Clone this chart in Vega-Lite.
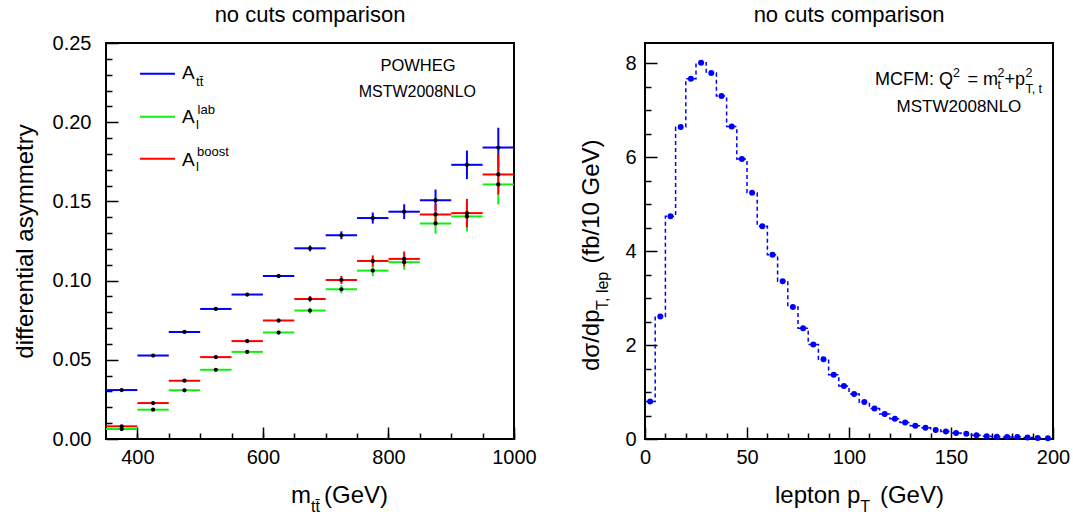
{
  "$schema": "https://vega.github.io/schema/vega-lite/v6.json",
  "padding": {"left": 12, "top": 3, "right": 5, "bottom": 0},
  "background": "white",
  "spacing": 40,
  "config": {
    "font": "Liberation Sans",
    "view": {"stroke": "black", "strokeWidth": 2},
    "title": {"font": "Liberation Sans", "fontSize": 22, "fontWeight": "normal", "color": "black"},
    "axis": {
      "domain": false, "grid": false, "tickColor": "black", "tickWidth": 1.5,
      "labelColor": "black", "labelFont": "Liberation Sans", "labelFontSize": 20,
      "labelOverlap": false, "labelFlush": false,
      "titleFont": "Liberation Sans", "titleFontSize": 24, "titleFontWeight": "normal", "titleColor": "black"
    }
  },
  "hconcat": [
    {
      "width": 408, "height": 396,
      "title": {"text": "no cuts comparison", "offset": 6},
      "resolve": {"axis": {"x": "independent", "y": "independent"}},
      "data": {"values": [
        {"series":"tt","lo":350,"hi":400,"x":375,"y":0.0309,"ylo":0.0301,"yhi":0.0317},
        {"series":"tt","lo":400,"hi":450,"x":425,"y":0.0527,"ylo":0.0519,"yhi":0.0535},
        {"series":"tt","lo":450,"hi":500,"x":475,"y":0.0676,"ylo":0.0668,"yhi":0.0684},
        {"series":"tt","lo":500,"hi":550,"x":525,"y":0.0821,"ylo":0.0812,"yhi":0.0830},
        {"series":"tt","lo":550,"hi":600,"x":575,"y":0.0912,"ylo":0.0902,"yhi":0.0922},
        {"series":"tt","lo":600,"hi":650,"x":625,"y":0.1029,"ylo":0.1017,"yhi":0.1041},
        {"series":"tt","lo":650,"hi":700,"x":675,"y":0.1204,"ylo":0.1186,"yhi":0.1222},
        {"series":"tt","lo":700,"hi":750,"x":725,"y":0.1286,"ylo":0.1261,"yhi":0.1311},
        {"series":"tt","lo":750,"hi":800,"x":775,"y":0.1395,"ylo":0.1360,"yhi":0.1430},
        {"series":"tt","lo":800,"hi":850,"x":825,"y":0.1435,"ylo":0.1388,"yhi":0.1482},
        {"series":"tt","lo":850,"hi":900,"x":875,"y":0.1508,"ylo":0.1441,"yhi":0.1575},
        {"series":"tt","lo":900,"hi":950,"x":925,"y":0.1731,"ylo":0.1641,"yhi":0.1821},
        {"series":"tt","lo":950,"hi":1000,"x":975,"y":0.1840,"ylo":0.1715,"yhi":0.1965},
        {"series":"lab","lo":350,"hi":400,"x":375,"y":0.0063,"ylo":0.0055,"yhi":0.0071},
        {"series":"lab","lo":400,"hi":450,"x":425,"y":0.0185,"ylo":0.0177,"yhi":0.0193},
        {"series":"lab","lo":450,"hi":500,"x":475,"y":0.0307,"ylo":0.0299,"yhi":0.0315},
        {"series":"lab","lo":500,"hi":550,"x":525,"y":0.0437,"ylo":0.0428,"yhi":0.0446},
        {"series":"lab","lo":550,"hi":600,"x":575,"y":0.0550,"ylo":0.0540,"yhi":0.0560},
        {"series":"lab","lo":600,"hi":650,"x":625,"y":0.0672,"ylo":0.0660,"yhi":0.0684},
        {"series":"lab","lo":650,"hi":700,"x":675,"y":0.0811,"ylo":0.0793,"yhi":0.0829},
        {"series":"lab","lo":700,"hi":750,"x":725,"y":0.0945,"ylo":0.0920,"yhi":0.0970},
        {"series":"lab","lo":750,"hi":800,"x":775,"y":0.1063,"ylo":0.1028,"yhi":0.1098},
        {"series":"lab","lo":800,"hi":850,"x":825,"y":0.1116,"ylo":0.1069,"yhi":0.1163},
        {"series":"lab","lo":850,"hi":900,"x":875,"y":0.1361,"ylo":0.1296,"yhi":0.1426},
        {"series":"lab","lo":900,"hi":950,"x":925,"y":0.1405,"ylo":0.1310,"yhi":0.1500},
        {"series":"lab","lo":950,"hi":1000,"x":975,"y":0.1607,"ylo":0.1481,"yhi":0.1733},
        {"series":"boost","lo":350,"hi":400,"x":375,"y":0.0080,"ylo":0.0072,"yhi":0.0088},
        {"series":"boost","lo":400,"hi":450,"x":425,"y":0.0227,"ylo":0.0219,"yhi":0.0235},
        {"series":"boost","lo":450,"hi":500,"x":475,"y":0.0368,"ylo":0.0360,"yhi":0.0376},
        {"series":"boost","lo":500,"hi":550,"x":525,"y":0.0517,"ylo":0.0508,"yhi":0.0526},
        {"series":"boost","lo":550,"hi":600,"x":575,"y":0.0618,"ylo":0.0608,"yhi":0.0628},
        {"series":"boost","lo":600,"hi":650,"x":625,"y":0.0748,"ylo":0.0736,"yhi":0.0760},
        {"series":"boost","lo":650,"hi":700,"x":675,"y":0.0884,"ylo":0.0866,"yhi":0.0902},
        {"series":"boost","lo":700,"hi":750,"x":725,"y":0.1004,"ylo":0.0979,"yhi":0.1029},
        {"series":"boost","lo":750,"hi":800,"x":775,"y":0.1124,"ylo":0.1089,"yhi":0.1159},
        {"series":"boost","lo":800,"hi":850,"x":825,"y":0.1137,"ylo":0.1090,"yhi":0.1184},
        {"series":"boost","lo":850,"hi":900,"x":875,"y":0.1418,"ylo":0.1355,"yhi":0.1481},
        {"series":"boost","lo":900,"hi":950,"x":925,"y":0.1426,"ylo":0.1336,"yhi":0.1516},
        {"series":"boost","lo":950,"hi":1000,"x":975,"y":0.1670,"ylo":0.1544,"yhi":0.1796}
      ]},
      "layer": [
        {
          "layer": [
            {
              "mark": {"type": "rule", "strokeWidth": 2},
              "encoding": {
                "x": {"field": "lo", "type": "quantitative", "scale": {"domain": [350, 1000], "nice": false, "zero": false},
                  "axis": {"title": null, "format": "d", "orient": "bottom", "values": [400, 600, 800, 1000],
                    "tickSize": 12, "offset": -12, "labelPadding": 8, "labelOverlap": false}},
                "x2": {"field": "hi"},
                "y": {"field": "y", "type": "quantitative", "scale": {"domain": [0, 0.25], "nice": false},
                  "axis": {"title": "differential asymmetry", "format": ".2f", "orient": "left", "titlePadding": 15,
                    "values": [0, 0.05, 0.1, 0.15, 0.2, 0.25],
                    "tickSize": 12, "offset": -12, "labelPadding": 15, "labelOverlap": false}},
                "color": {"field": "series", "type": "nominal", "scale": {"domain": ["tt", "lab", "boost"], "range": ["#0000ff", "#11ee11", "#ff0000"]}, "legend": null}
              }
            },
            {
              "mark": {"type": "rule", "strokeWidth": 2},
              "encoding": {
                "x": {"field": "x", "type": "quantitative"},
                "y": {"field": "ylo", "type": "quantitative"},
                "y2": {"field": "yhi"},
                "color": {"field": "series", "type": "nominal", "legend": null}
              }
            },
            {
              "mark": {"type": "point", "filled": true, "color": "black", "size": 18, "opacity": 1},
              "encoding": {
                "x": {"field": "x", "type": "quantitative"},
                "y": {"field": "y", "type": "quantitative"}
              }
            },
            {"data": {"values": [{}]}, "mark": {"type": "rule", "color": "#0000ff", "strokeWidth": 2},
              "encoding": {"x": {"datum": 404.2, "type": "quantitative"}, "x2": {"datum": 459.9}, "y": {"datum": 0.2306, "type": "quantitative"}}},
            {"data": {"values": [{}]}, "mark": {"type": "rule", "color": "#11ee11", "strokeWidth": 2},
              "encoding": {"x": {"datum": 404.2, "type": "quantitative"}, "x2": {"datum": 459.9}, "y": {"datum": 0.2035, "type": "quantitative"}}},
            {"data": {"values": [{}]}, "mark": {"type": "rule", "color": "#ff0000", "strokeWidth": 2},
              "encoding": {"x": {"datum": 404.2, "type": "quantitative"}, "x2": {"datum": 459.9}, "y": {"datum": 0.1770, "type": "quantitative"}}},
            {"data": {"values": [{}]}, "mark": {"type": "text", "text": "A", "fontSize": 19, "align": "left", "baseline": "alphabetic", "color": "black"},
              "encoding": {"x": {"datum": 471.1, "type": "quantitative"}, "y": {"datum": 0.2271, "type": "quantitative"}}},
            {"data": {"values": [{}]}, "mark": {"type": "text", "text": "tt̄", "fontSize": 13, "align": "left", "baseline": "alphabetic", "color": "black", "dx": 14, "dy": 7},
              "encoding": {"x": {"datum": 471.1, "type": "quantitative"}, "y": {"datum": 0.2271, "type": "quantitative"}}},
            {"data": {"values": [{}]}, "mark": {"type": "text", "text": "A", "fontSize": 19, "align": "left", "baseline": "alphabetic", "color": "black"},
              "encoding": {"x": {"datum": 471.1, "type": "quantitative"}, "y": {"datum": 0.1997, "type": "quantitative"}}},
            {"data": {"values": [{}]}, "mark": {"type": "text", "text": "lab", "fontSize": 13, "align": "left", "baseline": "alphabetic", "color": "black", "dx": 15.5, "dy": -8.5},
              "encoding": {"x": {"datum": 471.1, "type": "quantitative"}, "y": {"datum": 0.1997, "type": "quantitative"}}},
            {"data": {"values": [{}]}, "mark": {"type": "text", "text": "l", "fontSize": 13, "align": "left", "baseline": "alphabetic", "color": "black", "dx": 14, "dy": 6.5},
              "encoding": {"x": {"datum": 471.1, "type": "quantitative"}, "y": {"datum": 0.1997, "type": "quantitative"}}},
            {"data": {"values": [{}]}, "mark": {"type": "text", "text": "A", "fontSize": 19, "align": "left", "baseline": "alphabetic", "color": "black"},
              "encoding": {"x": {"datum": 471.1, "type": "quantitative"}, "y": {"datum": 0.1723, "type": "quantitative"}}},
            {"data": {"values": [{}]}, "mark": {"type": "text", "text": "boost", "fontSize": 13, "align": "left", "baseline": "alphabetic", "color": "black", "dx": 15, "dy": -10},
              "encoding": {"x": {"datum": 471.1, "type": "quantitative"}, "y": {"datum": 0.1723, "type": "quantitative"}}},
            {"data": {"values": [{}]}, "mark": {"type": "text", "text": "l", "fontSize": 13, "align": "left", "baseline": "alphabetic", "color": "black", "dx": 14, "dy": 5},
              "encoding": {"x": {"datum": 471.1, "type": "quantitative"}, "y": {"datum": 0.1723, "type": "quantitative"}}},
            {"data": {"values": [{}]}, "mark": {"type": "text", "text": "POWHEG", "fontSize": 16.5, "align": "center", "baseline": "alphabetic", "color": "black"},
              "encoding": {"x": {"datum": 847, "type": "quantitative"}, "y": {"datum": 0.2323, "type": "quantitative"}}},
            {"data": {"values": [{}]}, "mark": {"type": "text", "text": "MSTW2008NLO", "fontSize": 16, "align": "center", "baseline": "alphabetic", "color": "black"},
              "encoding": {"x": {"datum": 846, "type": "quantitative"}, "y": {"datum": 0.2161, "type": "quantitative"}}},
            {"data": {"values": [{}]}, "mark": {"type": "text", "text": "m", "fontSize": 24, "align": "left", "baseline": "alphabetic", "color": "black", "clip": false},
              "encoding": {"x": {"datum": 644.7, "type": "quantitative"}, "y": {"datum": -0.0405, "type": "quantitative"}}},
            {"data": {"values": [{}]}, "mark": {"type": "text", "text": "tt̄", "fontSize": 16, "align": "left", "baseline": "alphabetic", "color": "black", "dx": 20, "dy": 9, "clip": false},
              "encoding": {"x": {"datum": 644.7, "type": "quantitative"}, "y": {"datum": -0.0405, "type": "quantitative"}}},
            {"data": {"values": [{}]}, "mark": {"type": "text", "text": "(GeV)", "fontSize": 24, "align": "left", "baseline": "alphabetic", "color": "black", "dx": 33, "clip": false},
              "encoding": {"x": {"datum": 644.7, "type": "quantitative"}, "y": {"datum": -0.0405, "type": "quantitative"}}}
          ]
        },
        {
          "mark": {"type": "point", "opacity": 0},
          "encoding": {
            "x": {"field": "x", "type": "quantitative", "scale": {"domain": [350, 1000], "nice": false, "zero": false},
              "axis": {"title": null, "orient": "bottom", "labels": false, "tickSize": 6, "offset": -6,
                "values": [400, 450, 500, 550, 600, 650, 700, 750, 800, 850, 900, 950, 1000]}},
            "y": {"field": "y", "type": "quantitative", "scale": {"domain": [0, 0.25], "nice": false},
              "axis": {"title": null, "orient": "left", "labels": false, "tickSize": 6, "offset": -6,
                "values": [0.01, 0.02, 0.03, 0.04, 0.06, 0.07, 0.08, 0.09, 0.11, 0.12, 0.13, 0.14, 0.16, 0.17, 0.18, 0.19, 0.21, 0.22, 0.23, 0.24]}}
          }
        }
      ]
    },
    {
      "width": 408, "height": 396,
      "title": {"text": "no cuts comparison", "offset": 16},
      "resolve": {"axis": {"x": "independent", "y": "independent"}},
      "data": {"values": [
        {"lo":0,"pt":2.5,"val":0.80},{"lo":5,"pt":7.5,"val":2.61},{"lo":10,"pt":12.5,"val":4.74},{"lo":15,"pt":17.5,"val":6.64},
        {"lo":20,"pt":22.5,"val":7.67},{"lo":25,"pt":27.5,"val":8.01},{"lo":30,"pt":32.5,"val":7.79},{"lo":35,"pt":37.5,"val":7.30},
        {"lo":40,"pt":42.5,"val":6.65},{"lo":45,"pt":47.5,"val":5.96},{"lo":50,"pt":52.5,"val":5.24},{"lo":55,"pt":57.5,"val":4.53},
        {"lo":60,"pt":62.5,"val":3.92},{"lo":65,"pt":67.5,"val":3.36},{"lo":70,"pt":72.5,"val":2.81},{"lo":75,"pt":77.5,"val":2.36},
        {"lo":80,"pt":82.5,"val":2.01},{"lo":85,"pt":87.5,"val":1.70},{"lo":90,"pt":92.5,"val":1.37},{"lo":95,"pt":97.5,"val":1.13},
        {"lo":100,"pt":102.5,"val":0.96},{"lo":105,"pt":107.5,"val":0.79},{"lo":110,"pt":112.5,"val":0.65},{"lo":115,"pt":117.5,"val":0.53},
        {"lo":120,"pt":122.5,"val":0.43},{"lo":125,"pt":127.5,"val":0.35},{"lo":130,"pt":132.5,"val":0.28},{"lo":135,"pt":137.5,"val":0.24},
        {"lo":140,"pt":142.5,"val":0.19},{"lo":145,"pt":147.5,"val":0.16},{"lo":150,"pt":152.5,"val":0.13},{"lo":155,"pt":157.5,"val":0.11},
        {"lo":160,"pt":162.5,"val":0.08},{"lo":165,"pt":167.5,"val":0.06},{"lo":170,"pt":172.5,"val":0.05},{"lo":175,"pt":177.5,"val":0.04},
        {"lo":180,"pt":182.5,"val":0.04},{"lo":185,"pt":187.5,"val":0.03},{"lo":190,"pt":192.5,"val":0.02},{"lo":195,"pt":197.5,"val":0.015}
      ]},
      "layer": [
        {
          "layer": [
            {
              "mark": {"type": "line", "interpolate": "step-after", "color": "#0000ff", "strokeWidth": 1.5, "strokeDash": [4, 3]},
              "encoding": {
                "x": {"field": "lo", "type": "quantitative", "scale": {"domain": [0, 200], "nice": false},
                  "axis": {"title": null, "format": "d", "orient": "bottom", "values": [0, 50, 100, 150, 200],
                    "tickSize": 12, "offset": -12, "labelPadding": 8, "labelOverlap": false}},
                "y": {"field": "val", "type": "quantitative", "scale": {"domain": [0, 8.43], "nice": false},
                  "axis": {"title": null, "format": "d", "orient": "left", "values": [0, 2, 4, 6, 8],
                    "tickSize": 12, "offset": -12, "labelPadding": 9, "labelOverlap": false}}
              }
            },
            {
              "mark": {"type": "point", "filled": true, "color": "#0000ff", "size": 36, "opacity": 1},
              "encoding": {
                "x": {"field": "pt", "type": "quantitative"},
                "y": {"field": "val", "type": "quantitative"}
              }
            },
            {"data": {"values": [{}]}, "mark": {"type": "text", "text": "MCFM: Q", "fontSize": 18, "align": "left", "baseline": "alphabetic", "color": "black"},
              "encoding": {"x": {"datum": 112.7, "type": "quantitative"}, "y": {"datum": 7.536, "type": "quantitative"}}},
            {"data": {"values": [{}]}, "mark": {"type": "text", "text": "2", "fontSize": 12.5, "align": "left", "baseline": "alphabetic", "color": "black", "dx": 78, "dy": -8},
              "encoding": {"x": {"datum": 112.7, "type": "quantitative"}, "y": {"datum": 7.536, "type": "quantitative"}}},
            {"data": {"values": [{}]}, "mark": {"type": "text", "text": "= m", "fontSize": 18, "align": "left", "baseline": "alphabetic", "color": "black", "dx": 92.5},
              "encoding": {"x": {"datum": 112.7, "type": "quantitative"}, "y": {"datum": 7.536, "type": "quantitative"}}},
            {"data": {"values": [{}]}, "mark": {"type": "text", "text": "t", "fontSize": 12.5, "align": "left", "baseline": "alphabetic", "color": "black", "dx": 122.5, "dy": 4},
              "encoding": {"x": {"datum": 112.7, "type": "quantitative"}, "y": {"datum": 7.536, "type": "quantitative"}}},
            {"data": {"values": [{}]}, "mark": {"type": "text", "text": "2", "fontSize": 12.5, "align": "left", "baseline": "alphabetic", "color": "black", "dx": 122.5, "dy": -8},
              "encoding": {"x": {"datum": 112.7, "type": "quantitative"}, "y": {"datum": 7.536, "type": "quantitative"}}},
            {"data": {"values": [{}]}, "mark": {"type": "text", "text": "+p", "fontSize": 18, "align": "left", "baseline": "alphabetic", "color": "black", "dx": 129.5},
              "encoding": {"x": {"datum": 112.7, "type": "quantitative"}, "y": {"datum": 7.536, "type": "quantitative"}}},
            {"data": {"values": [{}]}, "mark": {"type": "text", "text": "2", "fontSize": 12.5, "align": "left", "baseline": "alphabetic", "color": "black", "dx": 150.5, "dy": -8},
              "encoding": {"x": {"datum": 112.7, "type": "quantitative"}, "y": {"datum": 7.536, "type": "quantitative"}}},
            {"data": {"values": [{}]}, "mark": {"type": "text", "text": "T, t", "fontSize": 12.5, "align": "left", "baseline": "alphabetic", "color": "black", "dx": 150.5, "dy": 8},
              "encoding": {"x": {"datum": 112.7, "type": "quantitative"}, "y": {"datum": 7.536, "type": "quantitative"}}},
            {"data": {"values": [{}]}, "mark": {"type": "text", "text": "MSTW2008NLO", "fontSize": 17, "align": "center", "baseline": "alphabetic", "color": "black"},
              "encoding": {"x": {"datum": 153.9, "type": "quantitative"}, "y": {"datum": 6.962, "type": "quantitative"}}},
            {"data": {"values": [{}]}, "mark": {"type": "text", "text": "lepton p", "fontSize": 24, "align": "left", "baseline": "alphabetic", "color": "black", "clip": false},
              "encoding": {"x": {"datum": 63.7, "type": "quantitative"}, "y": {"datum": -1.365, "type": "quantitative"}}},
            {"data": {"values": [{}]}, "mark": {"type": "text", "text": "T", "fontSize": 16, "align": "left", "baseline": "alphabetic", "color": "black", "dx": 85.4, "dy": 9, "clip": false},
              "encoding": {"x": {"datum": 63.7, "type": "quantitative"}, "y": {"datum": -1.365, "type": "quantitative"}}},
            {"data": {"values": [{}]}, "mark": {"type": "text", "text": "(GeV)", "fontSize": 24, "align": "left", "baseline": "alphabetic", "color": "black", "dx": 105, "clip": false},
              "encoding": {"x": {"datum": 63.7, "type": "quantitative"}, "y": {"datum": -1.365, "type": "quantitative"}}},
            {"data": {"values": [{}]}, "mark": {"type": "text", "text": "dσ/dp", "fontSize": 24, "angle": 270, "align": "left", "baseline": "alphabetic", "color": "black", "clip": false},
              "encoding": {"x": {"datum": -22.55, "type": "quantitative"}, "y": {"datum": 1.448, "type": "quantitative"}}},
            {"data": {"values": [{}]}, "mark": {"type": "text", "text": "T, lep", "fontSize": 16, "angle": 270, "align": "left", "baseline": "alphabetic", "color": "black", "dx": 61, "dy": 9, "clip": false},
              "encoding": {"x": {"datum": -22.55, "type": "quantitative"}, "y": {"datum": 1.448, "type": "quantitative"}}},
            {"data": {"values": [{}]}, "mark": {"type": "text", "text": "(fb/10 GeV)", "fontSize": 24, "angle": 270, "align": "left", "baseline": "alphabetic", "color": "black", "dx": 107.5, "clip": false},
              "encoding": {"x": {"datum": -22.55, "type": "quantitative"}, "y": {"datum": 1.448, "type": "quantitative"}}}
          ]
        },
        {
          "mark": {"type": "point", "opacity": 0},
          "encoding": {
            "x": {"field": "pt", "type": "quantitative", "scale": {"domain": [0, 200], "nice": false},
              "axis": {"title": null, "orient": "bottom", "labels": false, "tickSize": 6, "offset": -6,
                "values": [10, 20, 30, 40, 60, 70, 80, 90, 110, 120, 130, 140, 160, 170, 180, 190]}},
            "y": {"field": "val", "type": "quantitative", "scale": {"domain": [0, 8.43], "nice": false},
              "axis": {"title": null, "orient": "left", "labels": false, "tickSize": 6, "offset": -6,
                "values": [0.5, 1, 1.5, 2.5, 3, 3.5, 4.5, 5, 5.5, 6.5, 7, 7.5]}}
          }
        }
      ]
    }
  ]
}
